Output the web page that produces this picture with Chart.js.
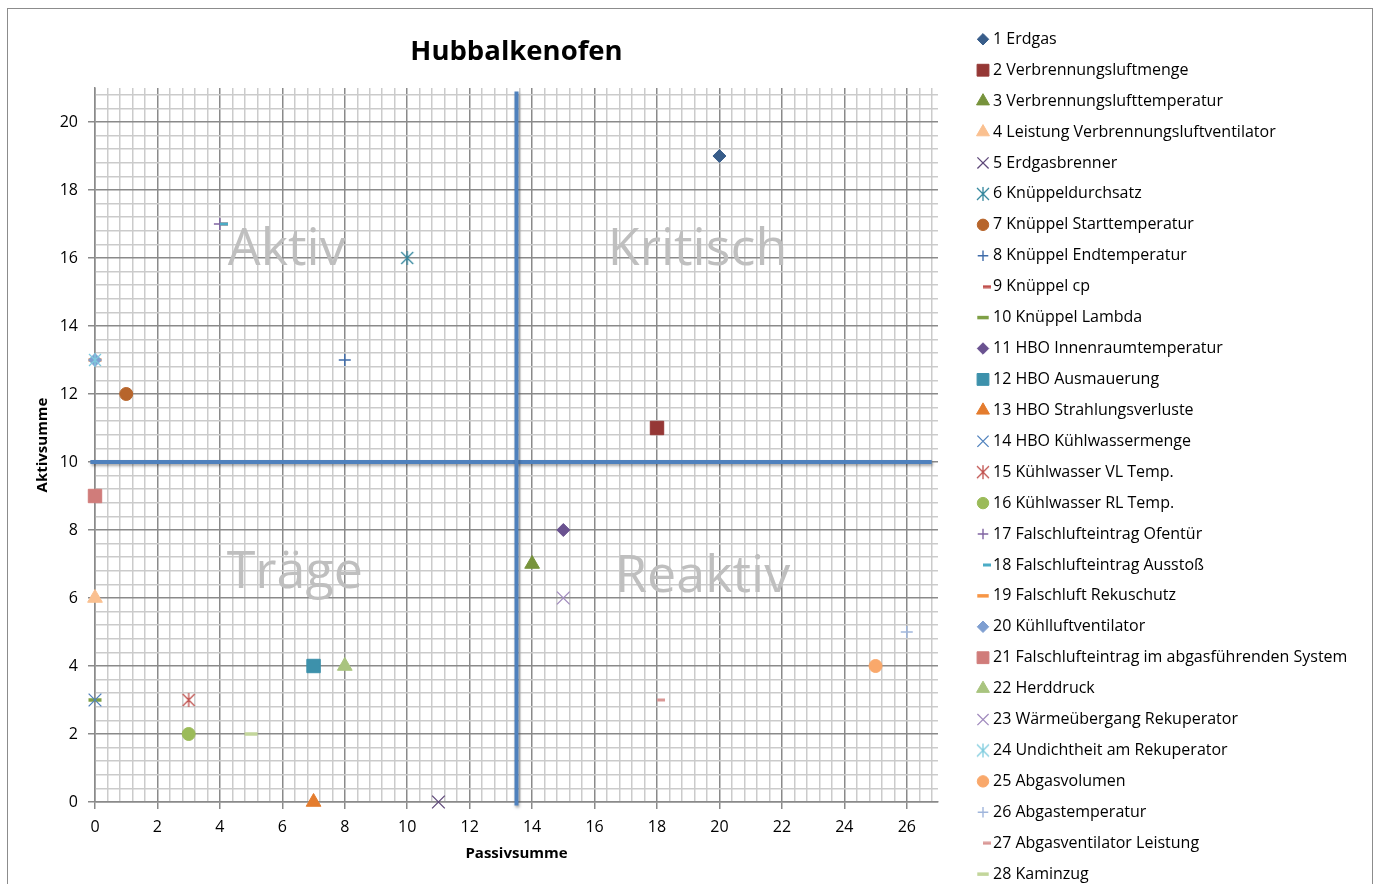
<!DOCTYPE html>
<html>
<head>
<meta charset="utf-8">
<title>Hubbalkenofen</title>
<script src="https://cdn.jsdelivr.net/npm/chart.js@4.4.1/dist/chart.umd.min.js"></script>
<style>
    html, body { margin: 0; padding: 0; background: #fff; }
    #wrap { position: relative; width: 1378px; height: 884px; overflow: hidden; }
    #frame { position: absolute; left: 7px; top: 8px; width: 1366px; height: 900px; border: 1px solid #8c8c8c; box-sizing: border-box; }
    #chart { position: absolute; left: 0; top: 0; }
</style>
</head>
<body>
<div id="wrap">
    <div id="frame"></div>
    <canvas id="chart" width="1378" height="884"></canvas>
</div>
<script>
// Einflussgrößen
const names = [
    '1 Erdgas', '2 Verbrennungsluftmenge', '3 Verbrennungslufttemperatur',
    '4 Leistung Verbrennungsluftventilator', '5 Erdgasbrenner', '6 Knüppeldurchsatz',
    '7 Knüppel Starttemperatur', '8 Knüppel Endtemperatur', '9 Knüppel cp',
    '10 Knüppel Lambda', '11 HBO Innenraumtemperatur', '12 HBO Ausmauerung',
    '13 HBO Strahlungsverluste', '14 HBO Kühlwassermenge', '15 Kühlwasser VL Temp.',
    '16 Kühlwasser RL Temp.', '17 Falschlufteintrag Ofentür', '18 Falschlufteintrag Ausstoß',
    '19 Falschluft Rekuschutz', '20 Kühlluftventilator', '21 Falschlufteintrag im abgasführenden System',
    '22 Herddruck', '23 Wärmeübergang Rekuperator', '24 Undichtheit am Rekuperator',
    '25 Abgasvolumen', '26 Abgastemperatur', '27 Abgasventilator Leistung', '28 Kaminzug'
];
const passiv = [20, 18, 14, 0, 11, 10, 1, 8, 4, 0, 15, 7, 7, 0, 3, 3, 4, 4, 0, 0, 0, 8, 15, 0, 25, 26, 18, 5];
const aktiv  = [19, 11, 7, 6, 0, 16, 12, 13, 17, 3, 8, 4, 0, 3, 3, 2, 17, 17, 13, 13, 9, 4, 6, 13, 4, 5, 3, 2];
const colors = [
    '#385D8A', '#953735', '#77933C', '#FAC090', '#5F497A', '#31859C', '#B7652C',
    '#3F6CAA', '#C0504D', '#7FA046', '#6A5290', '#3D91AB', '#E47C2E', '#4F81BD',
    '#C0504D', '#9BBB59', '#8064A2', '#4BACC6', '#F79646', '#7F9FD1', '#D07C7A',
    '#A9C47F', '#A18BBE', '#7FCCDE', '#F9A86B', '#A0B6DC', '#D99795', '#C3D69B'
];
const markers = [
    'diamond', 'square', 'triangle', 'triangle', 'x', 'star', 'circle', 'plus', 'shortdash', 'dash',
    'diamond', 'square', 'triangle', 'x', 'star', 'circle', 'plus', 'shortdash', 'dash',
    'diamond', 'square', 'triangle', 'x', 'star', 'circle', 'plus', 'shortdash', 'dash'
];

// Quadranten-Beschriftung
const quadrantLabels = ['Aktiv', 'Kritisch', 'Träge', 'Reaktiv'];
const quadrantX = [6.14, 19.3, 6.4, 19.46];
const quadrantY = [16.24, 16.24, 6.73, 6.61];

// Trennlinien
const vLineX = [13.5, 13.5];
const vLineY = [-0.1, 20.9];
const hLineX = [-0.15, 26.8];
const hLineY = [10, 10];

const MAJOR = '#8a8a8a';
const MINOR = '#cbcbcb';

function isMajor(v) {
    return v !== undefined && Math.abs(v / 2 - Math.round(v / 2)) < 1e-6;
}

function gridSteps(max) {
    const out = [];
    const n = Math.round(max / 0.4);
    for (let k = 0; k <= n; k++) out.push(Math.round(k * 4) / 10);
    return out;
}

function asterisk(color) {
    const c = document.createElement('canvas');
    c.width = 16; c.height = 16;
    const g = c.getContext('2d');
    g.strokeStyle = color;
    g.lineWidth = 1.3;
    g.beginPath();
    g.moveTo(2, 2); g.lineTo(14, 14);
    g.moveTo(14, 2); g.lineTo(2, 14);
    g.moveTo(8, 1); g.lineTo(8, 15);
    g.stroke();
    return c;
}

function shortDash(color) {
    const c = document.createElement('canvas');
    c.width = 16; c.height = 4;
    const g = c.getContext('2d');
    g.fillStyle = color;
    g.fillRect(8, 0.5, 8, 3);
    return c;
}

function markerStyle(kind, color) {
    switch (kind) {
        case 'diamond': return { pointStyle: 'rectRot', radius: 6.5, borderWidth: 1 };
        case 'square': return { pointStyle: 'rect', radius: 9.5, borderWidth: 1 };
        case 'triangle': return { pointStyle: 'triangle', radius: 8.5, borderWidth: 1 };
        case 'circle': return { pointStyle: 'circle', radius: 6.5, borderWidth: 1 };
        case 'x': return { pointStyle: 'crossRot', radius: 9, borderWidth: 1.3 };
        case 'plus': return { pointStyle: 'cross', radius: 6, borderWidth: 1.4 };
        case 'star': return { pointStyle: asterisk(color), radius: 7, borderWidth: 1.3 };
        case 'dash': return { pointStyle: 'line', radius: 6.5, borderWidth: 3.5 };
        default: return { pointStyle: shortDash(color), radius: 4, borderWidth: 0 };
    }
}

var datasets = [];
for (let i = 0; i < names.length; i++) {
    let m = markerStyle(markers[i], colors[i]);
    datasets.push({
        label: names[i],
        data: [{ x: passiv[i], y: aktiv[i] }],
        backgroundColor: colors[i],
        borderColor: colors[i],
        pointStyle: m.pointStyle,
        pointRadius: m.radius,
        pointHoverRadius: m.radius,
        pointBorderWidth: m.borderWidth,
        clip: false,
        order: -i
    });
}

datasets.push({
    label: 'vertikal',
    guide: true,
    data: vLineX.map((x, i) => ({ x: x, y: vLineY[i] })),
    showLine: true,
    borderColor: '#4F81BD',
    borderWidth: 4,
    pointRadius: 0,
    clip: false,
    order: 100
});
datasets.push({
    label: 'horizontal',
    guide: true,
    data: hLineX.map((x, i) => ({ x: x, y: hLineY[i] })),
    showLine: true,
    borderColor: '#4F81BD',
    borderWidth: 4,
    pointRadius: 0,
    clip: false,
    order: 100
});

const guideShadow = {
    id: 'guideShadow',
    beforeDatasetDraw(chart, args) {
        if (!chart.data.datasets[args.index].guide) return;
        const ctx = chart.ctx;
        ctx.save();
        ctx.shadowColor = 'rgba(0,0,0,0.35)';
        ctx.shadowBlur = 3;
        ctx.shadowOffsetX = 1;
        ctx.shadowOffsetY = 2;
    },
    afterDatasetDraw(chart, args) {
        if (!chart.data.datasets[args.index].guide) return;
        chart.ctx.restore();
    }
};

const quadrants = {
    id: 'quadrants',
    beforeDatasetsDraw(chart) {
        const { ctx, scales: { x, y } } = chart;
        ctx.save();
        ctx.font = '52px "Open Sans"';
        ctx.fillStyle = '#bfbfbf';
        ctx.textAlign = 'center';
        ctx.textBaseline = 'middle';
        quadrantLabels.forEach((t, i) => {
            ctx.fillText(t, x.getPixelForValue(quadrantX[i]), y.getPixelForValue(quadrantY[i]));
        });
        ctx.restore();
    }
};

const sideLegend = {
    id: 'sideLegend',
    afterDraw(chart) {
        const ctx = chart.ctx;
        ctx.save();
        ctx.font = '16px "Open Sans"';
        ctx.textBaseline = 'middle';
        ctx.textAlign = 'left';
        chart.data.datasets.forEach((ds, i) => {
            if (ds.guide) return;
            const y = 39.3 + i * 30.92;
            ctx.fillStyle = ds.backgroundColor;
            ctx.strokeStyle = ds.borderColor;
            ctx.lineWidth = ds.pointBorderWidth;
            Chart.helpers.drawPoint(ctx, {
                pointStyle: ds.pointStyle,
                radius: ds.pointRadius * 0.88,
                rotation: 0,
                borderWidth: ds.pointBorderWidth
            }, 983, y);
            ctx.fillStyle = '#000';
            ctx.fillText(ds.label, 993, y);
        });
        ctx.restore();
    }
};

Chart.defaults.font.family = '"Open Sans", sans-serif';
Chart.defaults.color = '#000';

var ctx = document.getElementById('chart').getContext('2d');

var myChart = new Chart(ctx, {
    type: 'scatter',
    data: { datasets: datasets },
    plugins: [guideShadow, quadrants, sideLegend],
    options: {
        responsive: false,
        animation: false,
        events: [],
        devicePixelRatio: 1,
        layout: { padding: { left: 0, right: 440, top: 0, bottom: 0 } },
        plugins: {
            legend: { display: false },
            tooltip: { enabled: false },
            title: {
                display: true,
                text: 'Hubbalkenofen',
                fullSize: false,
                color: '#000',
                font: { size: 27.5, weight: 'bold' },
                padding: { top: 36, bottom: 19 }
            }
        },
        scales: {
            x: {
                type: 'linear',
                min: 0,
                max: 27,
                afterBuildTicks: (s) => { s.ticks = gridSteps(26.8).map(v => ({ value: v })); },
                afterFit: (s) => { s.height = 82; },
                grid: {
                    color: (c) => isMajor(c.tick && c.tick.value) ? MAJOR : MINOR,
                    tickColor: (c) => isMajor(c.tick && c.tick.value) ? MAJOR : 'rgba(0,0,0,0)',
                    lineWidth: 1.5,
                    tickLength: 7
                },
                border: { color: MAJOR, width: 1.5 },
                ticks: {
                    autoSkip: false,
                    maxRotation: 0,
                    padding: 9,
                    font: { size: 16 },
                    callback: (v) => isMajor(v) ? String(Math.round(v)) : ''
                },
                title: {
                    display: true,
                    text: 'Passivsumme',
                    font: { size: 15, weight: 'bold' },
                    padding: { top: 0, bottom: 21 }
                }
            },
            y: {
                type: 'linear',
                min: 0,
                max: 21,
                afterBuildTicks: (s) => { s.ticks = gridSteps(20.8).map(v => ({ value: v })); },
                afterFit: (s) => { s.width = 95; },
                grid: {
                    color: (c) => isMajor(c.tick && c.tick.value) ? MAJOR : MINOR,
                    tickColor: (c) => isMajor(c.tick && c.tick.value) ? MAJOR : 'rgba(0,0,0,0)',
                    lineWidth: 1.5,
                    tickLength: 7
                },
                border: { color: MAJOR, width: 1.5 },
                ticks: {
                    autoSkip: false,
                    padding: 10,
                    font: { size: 16 },
                    callback: (v) => isMajor(v) ? String(Math.round(v)) : ''
                },
                title: {
                    display: true,
                    text: 'Aktivsumme',
                    font: { size: 15, weight: 'bold' },
                    padding: { top: 34, bottom: 0 }
                }
            }
        }
    }
});
</script>
</body>
</html>
